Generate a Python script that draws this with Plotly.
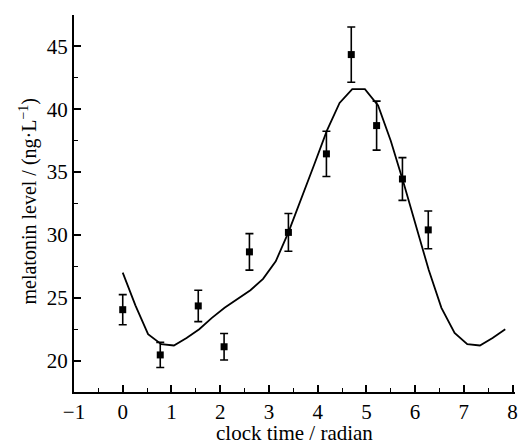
import plotly.graph_objects as go

# Measured data points (clock time in radians, melatonin level)
data_x = [0.0, 0.77, 1.55, 2.08, 2.60, 3.40, 4.18, 4.69, 5.21, 5.74, 6.27]
data_y = [24.05, 20.45, 24.35, 21.1, 28.65, 30.2, 36.45, 44.35, 38.7, 34.45, 30.4]
data_err = [1.2, 1.0, 1.25, 1.05, 1.45, 1.5, 1.8, 2.2, 1.95, 1.7, 1.5]

# Fitted curve (vertices)
fit_x = [0.0, 0.26, 0.52, 0.79, 1.05, 1.31, 1.57, 1.83, 2.09, 2.36, 2.62, 2.88,
         3.14, 3.40, 3.67, 3.93, 4.19, 4.45, 4.71, 4.97, 5.24, 5.50, 5.76, 6.02,
         6.28, 6.54, 6.81, 7.07, 7.33, 7.59, 7.85]
fit_y = [27.0, 24.4, 22.1, 21.3, 21.2, 21.8, 22.5, 23.4, 24.2, 24.9, 25.6, 26.5,
         27.9, 30.2, 32.9, 35.6, 38.3, 40.5, 41.6, 41.6, 40.3, 37.5, 34.2, 30.6,
         27.2, 24.2, 22.2, 21.3, 21.2, 21.8, 22.5]

x_ticks = [-1, 0, 1, 2, 3, 4, 5, 6, 7, 8]
y_ticks = [20, 25, 30, 35, 40, 45]

x_title = "clock time / radian"
y_title = "melatonin level / (ng\u00b7L<sup>\u22121</sup>)"

FONT = "Liberation Serif, Times New Roman, serif"

fig = go.Figure()
fig.add_trace(go.Scatter(
    x=fit_x, y=fit_y, mode="lines",
    line=dict(color="black", width=1.8),
    showlegend=False,
))
fig.add_trace(go.Scatter(
    x=data_x, y=data_y, mode="markers",
    marker=dict(symbol="square", size=7, color="black"),
    error_y=dict(type="data", array=data_err, visible=True,
                 color="black", thickness=1.6, width=4),
    showlegend=False,
))

fig.update_layout(
    width=519, height=440,
    margin=dict(l=74, r=4, t=15, b=48),
    paper_bgcolor="white", plot_bgcolor="white",
    font=dict(family=FONT, size=20, color="black"),
    xaxis=dict(
        range=[-1, 8.05], tickvals=x_ticks, automargin=False,
        ticktext=[("\u2212" + str(-v)) if v < 0 else str(v) for v in x_ticks],
        showline=True, linecolor="black", linewidth=2,
        ticks="inside", ticklen=7, tickwidth=1.6, tickcolor="black",
        minor=dict(dtick=0.5, tick0=0, ticks="inside", ticklen=4,
                   tickwidth=1.4, tickcolor="black", showgrid=False),
        showgrid=False, zeroline=False, mirror=False,
        tickfont=dict(family=FONT, size=21),
    ),
    yaxis=dict(
        range=[17.5, 47.5], tickvals=y_ticks, automargin=False,
        showline=True, linecolor="black", linewidth=2,
        ticks="inside", ticklen=7, tickwidth=1.6, tickcolor="black",
        minor=dict(dtick=2.5, tick0=0, ticks="inside", ticklen=4,
                   tickwidth=1.4, tickcolor="black", showgrid=False),
        showgrid=False, zeroline=False, mirror=False,
        tickfont=dict(family=FONT, size=21),
    ),
    annotations=[
        dict(text=x_title, xref="paper", yref="paper", x=0.5, y=0,
             xanchor="center", yanchor="top", yshift=-27, showarrow=False,
             font=dict(family=FONT, size=21, color="black")),
        dict(text=y_title, xref="paper", yref="paper", x=0, y=0.5,
             xanchor="center", yanchor="middle", xshift=-46, yshift=2,
             textangle=-90, showarrow=False,
             font=dict(family=FONT, size=20, color="black")),
    ],
)

fig.write_html(
    "out.html",
    config={"displayModeBar": False},
    post_script="document.body.style.margin='0px';document.body.style.overflow='hidden';",
)
